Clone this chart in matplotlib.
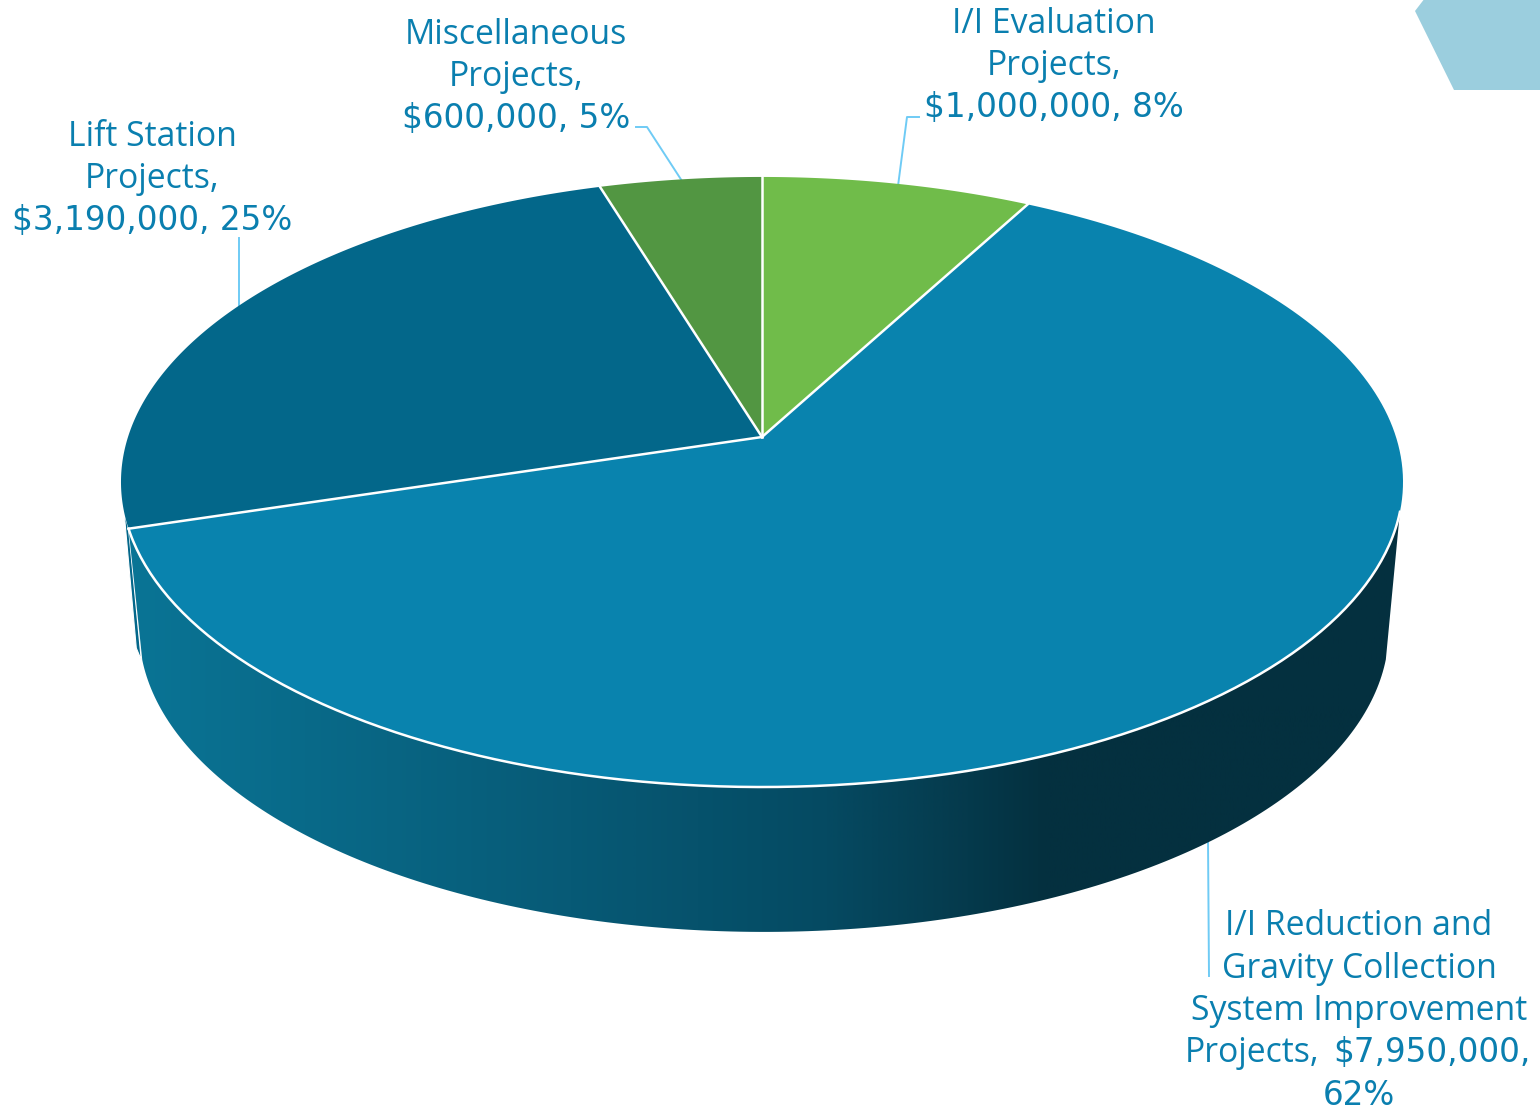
import numpy as np
import matplotlib
matplotlib.use('Agg')
import matplotlib.pyplot as plt
from matplotlib.colors import LinearSegmentedColormap
from matplotlib.patches import Polygon

plt.rcParams['font.family'] = ['Open Sans', 'DejaVu Sans']

# project budget, clockwise from 12 o'clock
names = ['I/I Evaluation Projects', 'I/I Reduction and Gravity Collection System Improvement Projects',
         'Lift Station Projects', 'Miscellaneous Projects']
values = [1000000, 7950000, 3190000, 600000]
colors = ['#70BC4A', '#0983AE', '#03678A', '#529642']

total = sum(values)
money = [f'${v:,}' for v in values]
pct = [f'{round(100 * v / total)}%' for v in values]

# wrapped label lines: text, x, alignment, baseline
words = [
    ('I/I Evaluation', 1054, 'center', 33), ('Projects,', 1054, 'center', 75),
    ('I/I Reduction and', 1359, 'center', 935), ('Gravity Collection', 1359, 'center', 978),
    ('System Improvement', 1359, 'center', 1020), ('Projects,', 1319, 'right', 1062),
    ('Lift Station', 152, 'center', 146), ('Projects,', 152, 'center', 188),
    ('Miscellaneous', 516, 'center', 44), ('Projects,', 516, 'center', 86),
]
# amounts get a face with wider digits
amounts = [
    (f'{money[0]}, {pct[0]}', 1054, 'center', 117),
    (f'{money[1]},', 1333, 'left', 1062), (pct[1], 1359, 'center', 1105),
    (f'{money[2]}, {pct[2]}', 152, 'center', 230),
    (f'{money[3]}, {pct[3]}', 516, 'center', 128),
]
leaders = [
    ([898, 907, 919], [186, 117, 117]),
    ([1208, 1209], [839, 976]),
    ([239, 239], [306, 238]),
    ([682, 647, 636], [181, 127, 127]),
]

TEXT = '#0A7FAF'
LEADER = '#6FCBF5'
K = 0.1475


def disc(theta, cx, cy, a, b):
    # perspective projection of a circle lying flat, theta clockwise from the back
    th = np.radians(theta)
    w = 1 + K * np.cos(th)
    return cx + a * np.sin(th) / w, cy - b * np.cos(th) / w


def top(theta):
    return disc(theta, 762, 437, 634, 298.4)


def bottom(theta):
    return disc(theta, 764, 585.4, 618, 295.4)


fig = plt.figure(figsize=(15.4, 11.1), dpi=100)
ax = fig.add_axes([0, 0, 1, 1])

# corner hexagon
ax.add_patch(Polygon([(1425, -2), (1415, 11), (1454, 90), (1542, 90), (1542, -2)], fc='#9BCEDE', ec='none'))

angles = 360 * np.cumsum([0] + values) / total
end_front = angles[2]

# sliver of the lift station wall on the left
bx, by = bottom(255.9)
tx, ty = top(256)
ax.add_patch(Polygon([(tx, ty), (bx - 6, by - 12), (bx - 1, by), top(end_front)], fc='#03678A', ec='white', lw=0.8))

# front wall with a horizontal shade
t1 = np.linspace(104, end_front, 200)
t2 = np.linspace(255.9, 104, 200)
xs = np.r_[top(t1)[0], bottom(t2)[0]]
ys = np.r_[top(t1)[1], bottom(t2)[1]]
wall = Polygon(np.c_[xs, ys], fc='none', ec='none')
ax.add_patch(wall)
shade = LinearSegmentedColormap.from_list('wall', [(0, '#0A7596'), (0.35, '#075A76'), (0.55, '#054A62'),
                                                   (0.66, '#053A4C'), (0.72, '#04303F'), (1, '#04303F')])
im = ax.imshow(np.linspace(0, 1, 512).reshape(1, -1), cmap=shade, extent=[120, 1405, 940, 480], aspect='auto', zorder=2)
im.set_clip_path(wall)

# top face
for i, c in enumerate(colors):
    t = np.linspace(angles[i], angles[i + 1], 200)
    x, y = top(t)
    ax.add_patch(Polygon(np.c_[np.r_[762, x], np.r_[437, y]], fc=c, ec='none', zorder=3))

# white edges: the radii and the front of the big slice
for a in angles[:-1]:
    x, y = top(a)
    ax.plot([762, x], [437, y], color='white', lw=1.8, zorder=4)
x, y = top(np.linspace(104, end_front, 200))
ax.plot(x, y, color='white', lw=1.8, zorder=4)

for (lx, ly) in leaders:
    ax.plot(lx, ly, color=LEADER, lw=1.4, zorder=1)

for s, x, ha, base in words:
    ax.text(x, base, s, color=TEXT, fontsize=24.3, ha=ha, va='baseline', zorder=5)
for s, x, ha, base in amounts:
    ax.text(x, base, s, color=TEXT, fontsize=23.5, family='DejaVu Sans', ha=ha, va='baseline', zorder=5)

ax.set_xlim(0, 1540)
ax.set_ylim(1110, 0)
ax.axis('off')

fig.savefig('out.png', dpi=100)
